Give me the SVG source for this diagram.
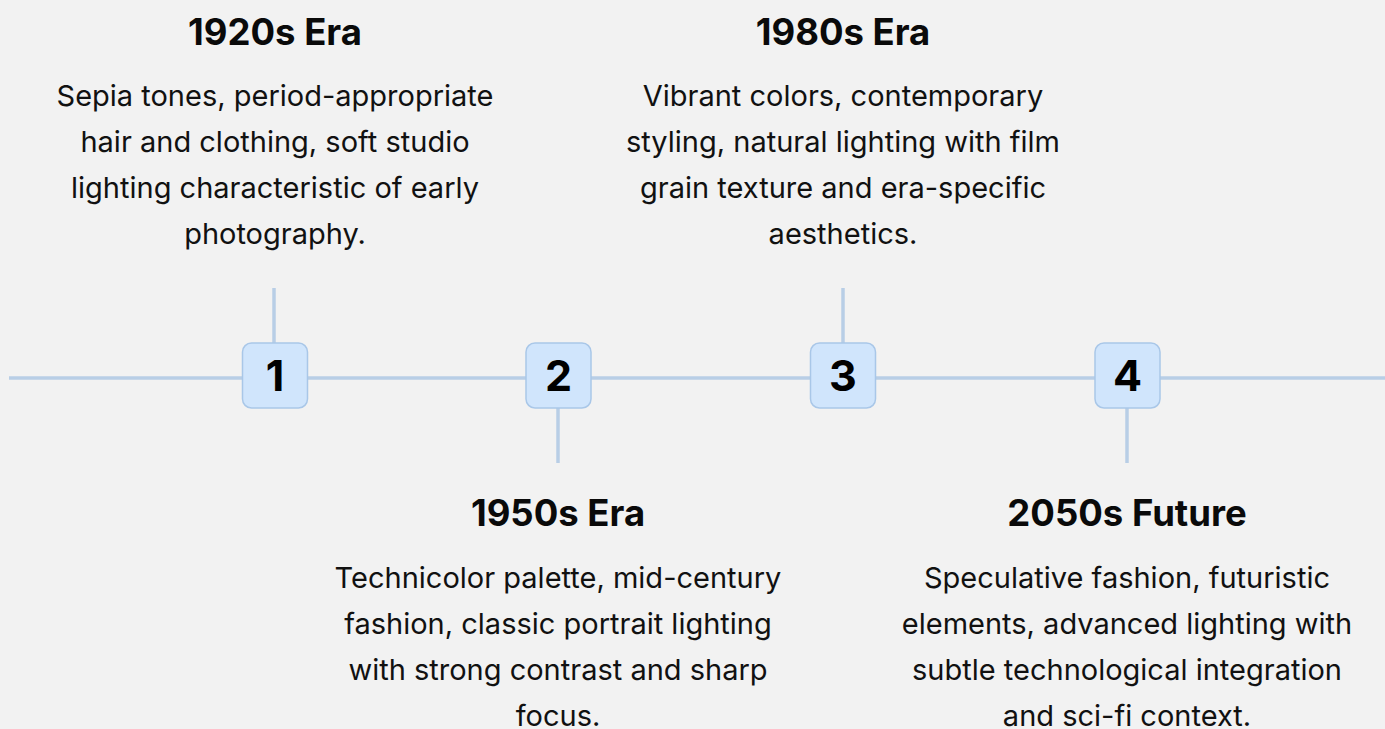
<svg xmlns="http://www.w3.org/2000/svg" width="1385" height="729" viewBox="0 0 1385 729">
<style>
.bg{fill:#f2f2f2}
.ln{stroke:#b8cee6;stroke-width:3.5;fill:none}
.box{fill:#d0e5fc;stroke:#a9c7e8;stroke-width:1.5}
.num{font-family:Inter,"Noto Sans",sans-serif;font-weight:700;font-size:43px;fill:#000;text-anchor:middle}
.ttl{font-family:Inter,"Noto Sans",sans-serif;font-weight:700;font-size:36.5px;fill:#0a0a0a;text-anchor:middle}
.dsc{font-family:Inter,"Noto Sans",sans-serif;font-weight:400;font-size:29px;fill:#111;text-anchor:middle}
</style>
<rect class="bg" x="0" y="0" width="1385" height="729"/>
<g id="connectors">
<line class="ln" x1="9" y1="378" x2="1385" y2="378"/>
<line class="ln" x1="274" y1="288" x2="274" y2="343"/>
<line class="ln" x1="558" y1="408" x2="558" y2="463"/>
<line class="ln" x1="843" y1="288" x2="843" y2="343"/>
<line class="ln" x1="1127" y1="408" x2="1127" y2="463"/>
</g>
<g id="node1">
<rect class="box" x="242.5" y="343" width="65" height="65" rx="9"/>
<text class="num" x="275" y="391">1</text>
<text class="ttl" x="275" y="44.5">1920s Era</text>
<text class="dsc" x="275" y="106">Sepia tones, period-appropriate</text>
<text class="dsc" x="275" y="152">hair and clothing, soft studio</text>
<text class="dsc" x="275" y="198">lighting characteristic of early</text>
<text class="dsc" x="275" y="244">photography.</text>
</g>
<g id="node2">
<rect class="box" x="526" y="343" width="65" height="65" rx="9"/>
<text class="num" x="558.5" y="391">2</text>
<text class="ttl" x="558" y="526">1950s Era</text>
<text class="dsc" x="558" y="588">Technicolor palette, mid-century</text>
<text class="dsc" x="558" y="634">fashion, classic portrait lighting</text>
<text class="dsc" x="558" y="680">with strong contrast and sharp</text>
<text class="dsc" x="558" y="726">focus.</text>
</g>
<g id="node3">
<rect class="box" x="810.5" y="343" width="65" height="65" rx="9"/>
<text class="num" x="843" y="391">3</text>
<text class="ttl" x="843" y="44.5">1980s Era</text>
<text class="dsc" x="843" y="106">Vibrant colors, contemporary</text>
<text class="dsc" x="843" y="152">styling, natural lighting with film</text>
<text class="dsc" x="843" y="198">grain texture and era-specific</text>
<text class="dsc" x="843" y="244">aesthetics.</text>
</g>
<g id="node4">
<rect class="box" x="1095" y="343" width="65" height="65" rx="9"/>
<text class="num" x="1127.5" y="391">4</text>
<text class="ttl" x="1127" y="526">2050s Future</text>
<text class="dsc" x="1127" y="588">Speculative fashion, futuristic</text>
<text class="dsc" x="1127" y="634">elements, advanced lighting with</text>
<text class="dsc" x="1127" y="680">subtle technological integration</text>
<text class="dsc" x="1127" y="726">and sci-fi context.</text>
</g>
</svg>
